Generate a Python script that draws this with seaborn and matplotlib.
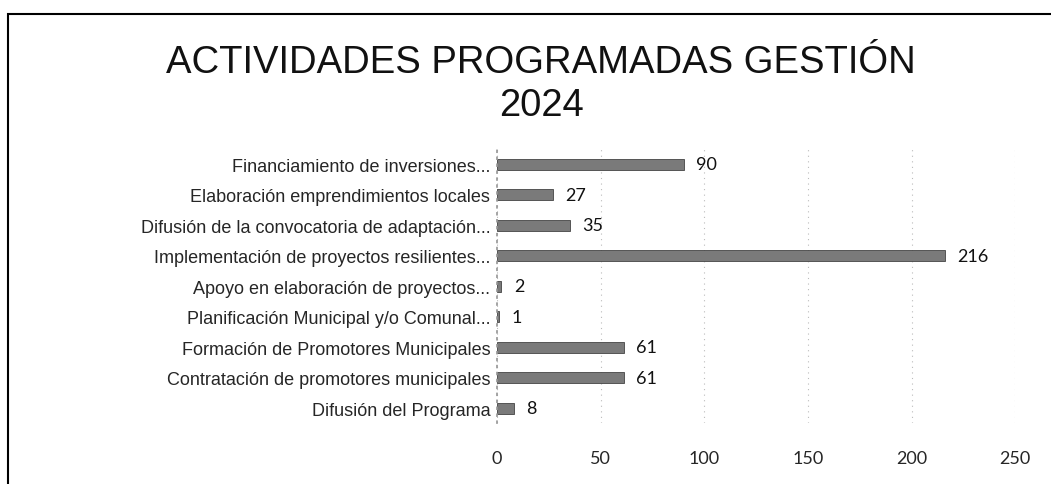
import pandas as pd
import numpy as np
import seaborn as sns
import matplotlib.pyplot as plt
from matplotlib.patches import Rectangle

categorias = [
    "Financiamiento de inversiones...",
    "Elaboración emprendimientos locales",
    "Difusión de la convocatoria de adaptación...",
    "Implementación de proyectos resilientes...",
    "Apoyo en elaboración de proyectos...",
    "Planificación Municipal y/o Comunal...",
    "Formación de Promotores Municipales",
    "Contratación de promotores municipales",
    "Difusión del Programa",
]
valores = [90, 27, 35, 216, 2, 1, 61, 61, 8]
ticks_x = [0, 50, 100, 150, 200, 250]

df = pd.DataFrame({"actividad": categorias, "cantidad": valores})

sns.set_theme(style="white")
plt.rcParams['font.family'] = ['Liberation Sans', 'DejaVu Sans']

fig = plt.figure(figsize=(10.51, 4.85), dpi=100)
ax = fig.add_axes([0.473, 0.125, 0.493, 0.566])

sns.barplot(data=df, x="cantidad", y="actividad", color="#7a7a7a",
            width=0.36, saturation=1, ax=ax, edgecolor="#444444", linewidth=0.6)

for i, v in enumerate(valores):
    ax.text(v + 6, i, str(v), va="center", ha="left", fontsize=13,
            family=['Lato', 'DejaVu Sans'], color="#111111")

ax.set_xlim(0, 250)
ax.set_xticks(ticks_x)
ax.set_xticklabels([str(t) for t in ticks_x], family=['Lato', 'DejaVu Sans'], fontsize=13)
ax.tick_params(axis='x', length=0, pad=19)
ax.tick_params(axis='y', length=0, labelsize=13, pad=5)
ax.set_xlabel("")
ax.set_ylabel("")
ax.grid(axis='x', color="#bbbbbb", linestyle=(0, (1, 4)), linewidth=0.8)
for s in ["top", "right", "bottom"]:
    ax.spines[s].set_visible(False)
ax.spines["left"].set_color("#999999")
ax.spines["left"].set_linestyle((0, (1, 3)))

fig.text(0.515, 0.825, "ACTIVIDADES PROGRAMADAS GESTIÓN\n2024", ha="center", va="center",
         fontsize=27.5, linespacing=1.25, color="#111111")

fig.patches.append(Rectangle((0.008, -0.02), 1.1, 0.99, transform=fig.transFigure,
                             fill=False, edgecolor="black", linewidth=1.5))

fig.savefig("out.png", dpi=100, facecolor="white")
